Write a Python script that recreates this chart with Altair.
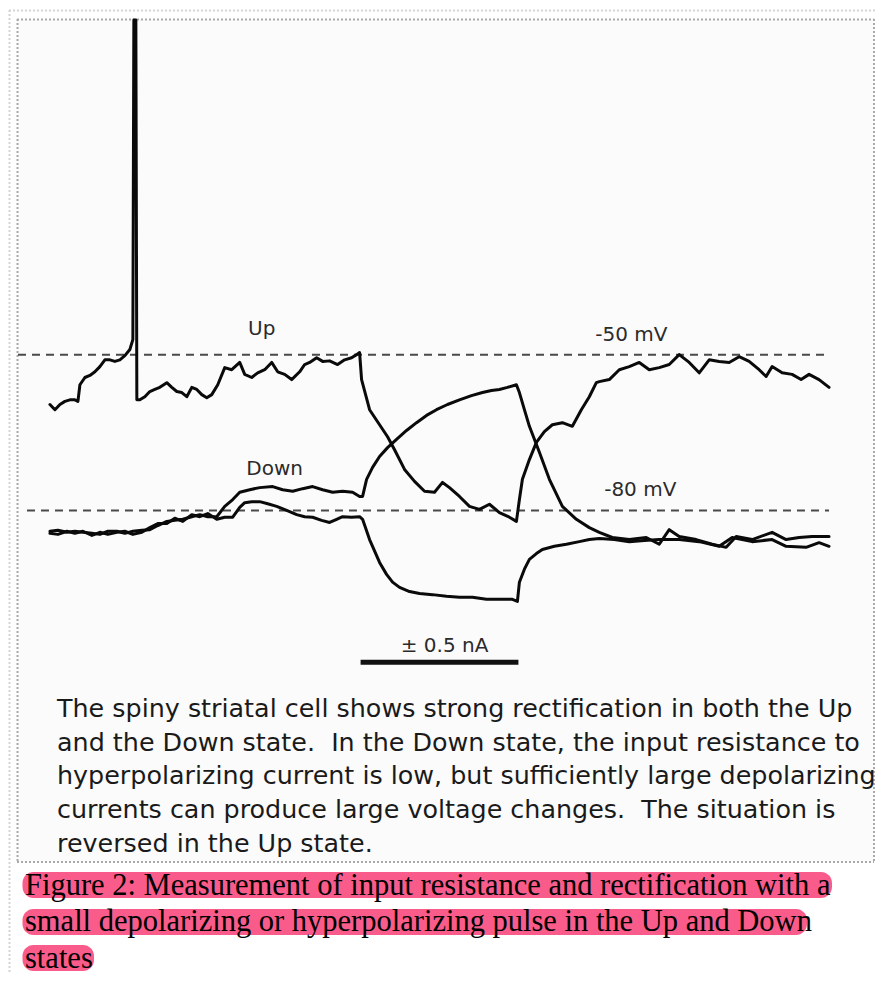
import altair as alt
import pandas as pd

# ------------------------------------------------------------------
# Data (time in ms, membrane potential in mV)
# ------------------------------------------------------------------
up_t = [0, 5, 10, 15, 20, 25, 28, 30, 35, 40, 45, 50, 55, 60, 65, 70, 75, 80, 83, 84,
        86, 87, 90, 95, 100, 105, 110, 117, 122, 127, 132, 137, 142, 147, 152, 157, 162, 168, 175, 182,
        190, 195, 202, 208, 215, 222, 228, 235, 242, 250, 255, 260, 267, 273, 280, 288, 295, 302, 307, 310,
        312, 320, 330, 338, 345, 355, 365, 375, 385, 393, 400, 410, 420, 430, 440, 450, 460, 467, 470, 473,
        480, 487, 495, 503, 513, 523, 532, 540, 547, 550, 560, 570, 580, 590, 600, 610, 620, 630, 640, 650,
        660, 670, 680, 690, 700, 710, 717, 723, 733, 743, 752, 760, 770, 780]
up_v = [-59.6, -60.6, -59.6, -59.0, -58.7, -58.7, -59.0, -55.8, -54.4, -54.0,
        -53.3, -52.3, -51.0, -51.0, -51.3, -51.0, -50.2, -49.0, -47.1, 14.4,
        14.4, -58.7, -58.7, -58.1, -57.1, -56.7, -56.3, -55.4, -56.3, -57.1,
        -57.3, -58.1, -56.3, -56.7, -57.7, -58.3, -57.7, -55.8, -52.5, -52.9,
        -51.5, -53.8, -54.4, -53.5, -52.9, -51.5, -53.3, -53.8, -54.8, -53.3,
        -51.9, -51.5, -50.6, -51.3, -51.2, -51.9, -51.0, -50.6, -50.0, -49.6,
        -54.8, -60.6, -63.5, -65.8, -68.3, -72.1, -74.4, -76.3, -76.5, -74.6,
        -75.6, -77.3, -79.2, -79.8, -78.8, -80.4, -81.3, -82.1, -77.9, -74.0,
        -70.2, -66.9, -64.8, -63.5, -63.1, -63.8, -60.6, -58.1, -55.4, -55.2,
        -54.8, -52.9, -52.3, -51.5, -52.9, -52.5, -51.9, -50.0, -51.5, -53.5,
        -51.0, -51.3, -51.5, -50.4, -51.3, -52.9, -54.2, -52.3, -53.5, -53.8,
        -54.8, -53.8, -54.8, -56.3]

down_pre_t = [0, 8, 17, 25, 33, 42, 50, 58, 67, 75, 83, 92, 100, 108, 117, 125, 133, 142, 150, 158, 167]
down_dep_pre_v = [-84.0, -83.8, -84.2, -84.0, -84.2, -84.4, -84.6, -84.0, -84.0, -84.4, -84.0,
                  -83.8, -83.7, -82.9, -82.1, -81.9, -81.7, -81.2, -80.8, -81.2, -81.2]
down_hyp_pre_v = [-84.4, -84.6, -84.0, -84.4, -84.0, -84.8, -84.2, -84.6, -84.2, -84.0, -84.6,
                  -84.2, -83.3, -82.5, -82.5, -81.5, -82.1, -80.8, -81.2, -80.6, -81.7]

down_dep_t = [175, 183, 190, 200, 210, 223, 233, 243, 253, 263, 273, 283, 293, 303, 310, 313, 317, 323, 330, 338,
              347, 357, 367, 377, 387, 398, 410, 422, 433, 442, 450, 458, 467, 470, 475, 480, 490, 500, 513, 527,
              540, 550, 563, 580, 597, 610, 620, 630, 647, 663, 677, 687, 703, 723, 737, 750, 763, 780]
down_dep_v = [-79.2, -77.9, -76.5, -76.0, -75.6, -75.4, -76.0, -76.3, -75.8, -75.4,
              -76.0, -76.5, -76.3, -76.5, -77.3, -77.3, -74.0, -71.7, -69.6, -67.9,
              -66.3, -64.6, -63.1, -61.7, -60.6, -59.6, -58.7, -57.9, -57.3, -56.9,
              -56.7, -56.3, -55.8, -57.3, -60.6, -63.8, -68.8, -74.0, -79.2, -81.7,
              -83.3, -84.2, -85.2, -85.6, -85.2, -86.5, -83.7, -85.0, -85.6, -86.5,
              -87.1, -85.0, -85.6, -84.2, -85.6, -85.2, -85.0, -85.0]

down_hyp_t = [175, 183, 190, 195, 202, 210, 218, 227, 237, 247, 255, 263, 272, 280, 287, 293, 302, 310, 313, 320,
              330, 337, 343, 350, 360, 370, 383, 397, 410, 423, 437, 450, 463, 468, 470, 475, 480, 487, 493, 505,
              517, 530, 540, 550, 565, 580, 595, 610, 630, 650, 670, 683, 703, 723, 737, 757, 770, 780]
down_hyp_v = [-81.3, -81.3, -79.4, -78.5, -78.3, -78.3, -78.7, -79.2, -80.0, -80.8,
              -81.2, -81.3, -81.9, -82.3, -81.7, -81.2, -81.3, -81.2, -81.7, -85.6,
              -90.0, -92.3, -93.8, -94.8, -95.6, -96.0, -96.2, -96.5, -96.7, -96.7,
              -97.1, -97.1, -97.1, -97.5, -93.8, -91.3, -89.4, -88.3, -87.5, -86.9,
              -86.5, -86.0, -85.6, -85.4, -85.6, -86.0, -85.8, -85.6, -85.6, -86.0,
              -86.9, -85.2, -86.0, -85.6, -86.9, -87.1, -86.2, -86.9]

ref_levels = [-50, -80]
ref_start = [-32, -23]
ref_end = [779, 780]

label_texts = ["Up", "-50 mV", "Down", "-80 mV"]
label_t = [212, 582, 225, 591]
label_v = [-46.2, -47.3, -73.1, -77.3]

pulse_start, pulse_end = 311, 469
bar_v = -109.2
bar_label = "\u00b1 0.5 nA"
bar_label_t = 395
bar_label_v = -107.3

body_lines = [
    "The spiny striatal cell shows strong rectification in both the Up",
    "and the Down state.\u00a0 In the Down state, the input resistance to",
    "hyperpolarizing current is low, but sufficiently large depolarizing",
    "currents can produce large voltage changes.\u00a0 The situation is",
    "reversed in the Up state.",
]
caption_lines = [
    "Figure 2: Measurement of input resistance and rectification with a",
    "small depolarizing or hyperpolarizing pulse in the Up and Down",
    "states",
]

# ------------------------------------------------------------------
# Layout
# ------------------------------------------------------------------
W, H = 869, 966
OX, OY = 8, 8            # page offset of the drawing area
T0_PAGE = 50             # page x of t = 0 ms
MV50_PAGE = 355          # page y of -50 mV
PX_PER_MS = 1.0
PX_PER_MV = 5.2

x_dom = [(OX - T0_PAGE) / PX_PER_MS, (OX + W - T0_PAGE) / PX_PER_MS]
y_top = -50 + (MV50_PAGE - OY) / PX_PER_MV
y_bot = -50 - (OY + H - MV50_PAGE) / PX_PER_MV
xs = alt.Scale(domain=x_dom, nice=False, zero=False)
ys = alt.Scale(domain=[y_bot, y_top], nice=False, zero=False)

rows = []
for name, ts, vs in [
    ("Up state, hyperpolarizing", up_t, up_v),
    ("Down state, depolarizing", down_pre_t + down_dep_t, down_dep_pre_v + down_dep_v),
    ("Down state, hyperpolarizing", down_pre_t + down_hyp_t, down_hyp_pre_v + down_hyp_v),
]:
    for i, (t, v) in enumerate(zip(ts, vs)):
        rows.append({"trace": name, "t": t, "v": v, "i": i})
traces = pd.DataFrame(rows)

dummy = pd.DataFrame({"k": [0]})


def rect(x0, x1, y0, y1, fill, radius=0):
    return alt.Chart(dummy).mark_rect(fill=fill, cornerRadius=radius).encode(
        x=alt.value(x0 - OX), x2=alt.value(x1 - OX),
        y=alt.value(y0 - OY), y2=alt.value(y1 - OY))


def hline(x0, x1, y, color):
    return alt.Chart(dummy).mark_rule(color=color, strokeWidth=2, strokeDash=[2, 2]).encode(
        x=alt.value(x0 - OX), x2=alt.value(x1 - OX), y=alt.value(y - OY))


def vline(x, y0, y1, color):
    return alt.Chart(dummy).mark_rule(color=color, strokeWidth=2, strokeDash=[2, 2]).encode(
        x=alt.value(x - OX), y=alt.value(y0 - OY), y2=alt.value(y1 - OY))


def text(s, x, y, font, size, color):
    return alt.Chart(dummy).mark_text(
        text=s, font=font, fontSize=size, color=color, align="left", baseline="alphabetic"
    ).encode(x=alt.value(x - OX), y=alt.value(y - OY))


layers = []
# figure background & borders
layers.append(rect(17, 874, 19, 862, "#fbfbfb"))
OUT = "#d4d4d4"
INN = "#a9a9a9"
layers += [hline(9, 877, 10.5, OUT), vline(9.5, 10, OY + H, OUT)]
layers += [hline(17, 874, 19.5, INN), hline(17, 874, 862, INN),
           vline(17.5, 19, 862, INN), vline(874, 19, 862, INN)]

# caption highlight bands
layers.append(rect(22.5, 832, 872, 898, "#f95c8b", 11))
layers.append(rect(22.5, 807, 909, 935, "#f95c8b", 11))
layers.append(rect(22.5, 94, 945, 971, "#f95c8b", 11))

# dashed reference potentials
ref_df = pd.DataFrame({"v": ref_levels, "t0": ref_start, "t1": ref_end})
layers.append(alt.Chart(ref_df).mark_rule(color="#4a4a4a", strokeWidth=2, strokeDash=[8, 6]).encode(
    x=alt.X("t0:Q", scale=xs, axis=None), x2="t1:Q",
    y=alt.Y("v:Q", scale=ys, axis=None)))

# voltage traces
layers.append(alt.Chart(traces).mark_line(
    color="#0a0a0a", strokeWidth=3, strokeJoin="round", strokeCap="round").encode(
    x=alt.X("t:Q", scale=xs, axis=None),
    y=alt.Y("v:Q", scale=ys, axis=None),
    detail="trace:N", order="i:Q"))

# labels
lab_df = pd.DataFrame({"text": label_texts, "t": label_t, "v": label_v})
layers.append(alt.Chart(lab_df).mark_text(
    font="DejaVu Sans", fontSize=20, color="#2b2b2b", align="center", baseline="alphabetic").encode(
    x=alt.X("t:Q", scale=xs, axis=None), y=alt.Y("v:Q", scale=ys, axis=None), text="text:N"))

# current pulse bar
bar_df = pd.DataFrame({"t0": [pulse_start], "t1": [pulse_end], "v": [bar_v],
                       "lt": [bar_label_t], "lv": [bar_label_v], "label": [bar_label]})
layers.append(alt.Chart(bar_df).mark_rule(color="#111111", strokeWidth=5).encode(
    x=alt.X("t0:Q", scale=xs, axis=None), x2="t1:Q", y=alt.Y("v:Q", scale=ys, axis=None)))
layers.append(alt.Chart(bar_df).mark_text(
    font="DejaVu Sans", fontSize=20, color="#2b2b2b", align="center", baseline="alphabetic").encode(
    x=alt.X("lt:Q", scale=xs, axis=None), y=alt.Y("lv:Q", scale=ys, axis=None), text="label:N"))

# body text
for k, line in enumerate(body_lines):
    layers.append(text(line, 57, 717 + k * 33.7, "DejaVu Sans", 25.4, "#1a1a1a"))

# caption
for k, line in enumerate(caption_lines):
    layers.append(text(line, 25, 894.5 + k * 36.5, "Liberation Serif", 30.5, "#000000"))

chart = alt.layer(*layers).properties(
    width=W, height=H, padding=0,
    autosize=alt.AutoSizeParams(type="fit", contains="padding"),
    background="#ffffff",
).configure_view(strokeWidth=0)

chart.save("out.html", embed_options={"renderer": "svg", "actions": False})
